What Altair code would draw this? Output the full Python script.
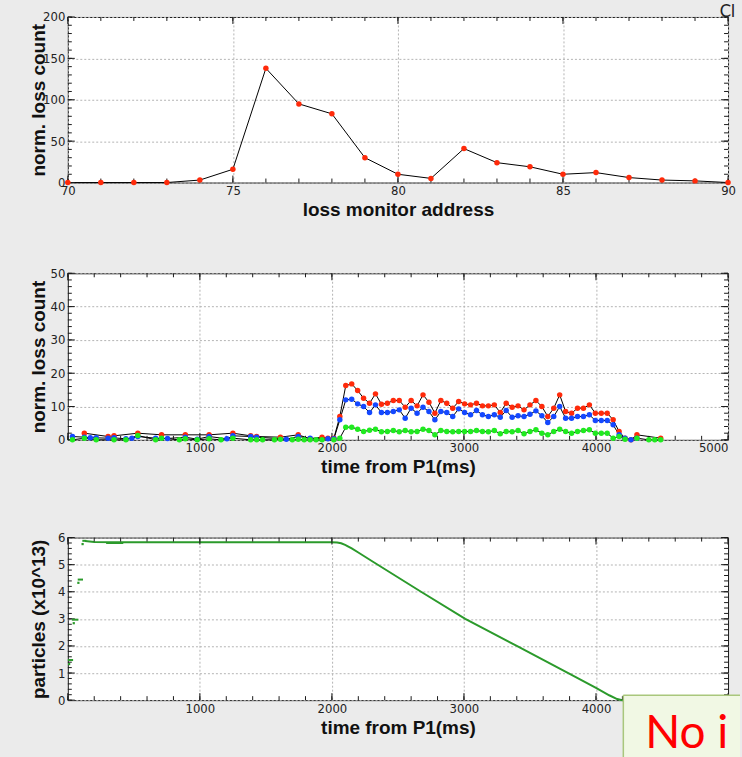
import altair as alt
import pandas as pd

# ---------------- data: panel 1 (loss vs monitor address) ----------------
addr = [70, 71, 72, 73, 74, 75, 76, 77, 78, 79, 80, 81, 82, 83, 84, 85, 86, 87, 88, 89, 90]
loss_addr = [0, 0, 0, 0, 3, 16, 138, 95, 83, 30, 10, 5, 41, 24, 19, 10, 12, 6, 3, 2, 0]

# ---------------- data: panel 2 (loss vs time, three monitors) ----------------
times = [35, 80, 125, 170, 215, 260, 305, 350, 395, 440, 485, 530, 575, 620, 665,
         710, 755, 800, 845, 890, 935, 980, 1025, 1070, 1115, 1160, 1205, 1250, 1295, 1340,
         1385, 1430, 1475, 1520, 1565, 1610, 1655, 1700, 1745, 1790, 1835, 1880, 1925, 1970, 2015,
         2060, 2105, 2150, 2195, 2240, 2285, 2330, 2375, 2420, 2465, 2510, 2555, 2600, 2645, 2690,
         2735, 2780, 2825, 2870, 2915, 2960, 3005, 3050, 3095, 3140, 3185, 3230, 3275, 3320, 3365,
         3410, 3455, 3500, 3545, 3590, 3635, 3680, 3725, 3770, 3815, 3860, 3905, 3950, 3995, 4040,
         4085, 4130, 4175, 4220, 4265, 4310, 4355, 4400, 4445, 4490]
N = None
red_loss = [N, N, 2.0, N, N, N, 1.0, 1.2, N, N, N, 2.0, N, N, N,
            1.5, N, N, N, 1.5, N, N, N, 1.5, N, N, N, 2.0, N, N,
            1.2, 1.0, N, N, N, 0.8, N, N, 1.5, N, 0.3, N, 0.8, 0.5, 0.5,
            7.0, 16.3, 16.8, 14.8, 12.5, 11.0, 13.8, 10.7, 11.0, 11.8,
            11.8, 9.8, 11.8, 10.2, 13.5, 11.3, 8.0, 11.8, 11.0, 9.5,
            11.5, 10.8, 10.5, 11.0, 10.2, 10.2, 10.5, 8.2, 11.0, 9.8,
            10.2, 9.0, 10.5, 11.8, 10.0, 7.0, 9.5, 13.5, 8.5, 8.0,
            9.5, 9.5, 10.5, 8.0, 8.0, 8.0, 6.0, 2.5, 0.5, 0.0,
            1.5, N, N, N, 0.5]
blue_loss = [1.0, N, 0.8, 0.6, 0.6, N, 0.5, 0.6, N, 0.3, 0.5, 1.0, N, N, 0.5,
             N, 0.4, N, N, 0.8, N, 0.2, N, 1.0, N, N, 0.3, 1.2, N, N,
             1.0, 0.8, N, N, N, N, 0.2, N, 1.0, N, 0.5, N, N, 0.3, 0.3,
             6.0, 12.0, 12.2, 10.8, 10.0, 8.2, 10.5, 8.2, 8.2, 8.5,
             9.0, 6.5, 9.5, 8.0, 9.8, 8.5, 6.0, 8.5, 8.2, 7.0,
             9.3, 8.2, 7.5, 8.8, 7.5, 7.0, 7.5, 6.8, 8.8, 6.8,
             7.2, 7.0, 7.7, 8.7, 7.2, 5.2, 7.0, 10.0, 6.5, 6.5,
             7.0, 7.0, 7.5, 5.8, 5.8, 5.8, 4.5, 1.5, 0.5, 0.0,
             0.5, N, N, N, N]
green_loss = [0.0, N, 0.5, N, 0.0, N, N, 0.0, N, 0.0, N, 1.3, N, N, 0.0,
              0.5, N, N, 0.0, 0.3, N, 0.0, N, 0.3, N, 0.0, N, 0.5, N, N,
              0.0, 0.0, 0.0, N, 0.0, 0.2, N, 0.0, 0.2, 0.0, 0.0, 0.0, 0.0, N, 0.0,
              0.5, 3.8, 3.8, 3.2, 2.5, 2.9, 3.2, 2.4, 2.5, 2.8,
              2.4, 2.8, 2.4, 2.5, 3.2, 2.8, 1.5, 2.8, 2.5, 2.4,
              2.5, 2.5, 2.5, 2.8, 2.5, 2.4, 2.8, 1.8, 2.5, 2.4,
              2.8, 1.8, 2.5, 3.0, 2.0, 1.5, 2.5, 3.2, 2.5, 2.0,
              2.5, 2.8, 3.0, 2.0, 2.0, 2.0, 0.5, 1.0, 0.2, N,
              0.5, N, 0.0, 0.0, 0.0]
series_names = ["red", "blue", "green"]
series_colors = ["#ff2a0a", "#1448ff", "#20ea20"]

# ---------------- data: panel 3 (particles vs time) ----------------
part_t = [130, 200, 400, 1000, 1500, 2000, 2040, 2070, 2100, 2150, 2200, 2320, 2675, 3010,
          3400, 3790, 4000, 4100, 4160, 4200, 4240]
part_v = [5.87, 5.84, 5.83, 5.83, 5.83, 5.83, 5.82, 5.79, 5.73, 5.6, 5.45, 5.08, 4.0, 3.0,
          2.0, 1.0, 0.45, 0.18, 0.04, 0.0, 0.0]
seg_start = [0, 30, 75, 110, 290]
seg_end = [40, 80, 115, 140, 420]
seg_val = [1.48, 2.97, 4.45, 5.88, 5.80]
dot_t = [10, 45, 80, 112]
dot_v = [1.33, 2.84, 4.33, 5.76]

# ---------------- axis ticks ----------------
p1_x_major = [70, 75, 80, 85, 90]
p1_x_minor = addr
p1_y_major = [0, 50, 100, 150, 200]
p1_y_minor = [0, 10, 20, 30, 40, 50, 60, 70, 80, 90, 100, 110, 120, 130, 140, 150, 160, 170, 180, 190, 200]
t_major = [0, 1000, 2000, 3000, 4000, 5000]
t_minor = [0, 200, 400, 600, 800, 1000, 1200, 1400, 1600, 1800, 2000, 2200, 2400, 2600, 2800,
           3000, 3200, 3400, 3600, 3800, 4000, 4200, 4400, 4600, 4800, 5000]
p2_y_major = [0, 10, 20, 30, 40, 50]
p2_y_minor = [0, 2, 4, 6, 8, 10, 12, 14, 16, 18, 20, 22, 24, 26, 28, 30, 32, 34, 36, 38,
              40, 42, 44, 46, 48, 50]
p3_y_major = [0, 1, 2, 3, 4, 5, 6]
p3_y_minor = [0, 0.2, 0.4, 0.6, 0.8, 1, 1.2, 1.4, 1.6, 1.8, 2, 2.2, 2.4, 2.6, 2.8, 3, 3.2, 3.4,
              3.6, 3.8, 4, 4.2, 4.4, 4.6, 4.8, 5, 5.2, 5.4, 5.6, 5.8, 6]

W = 662
H1, H2, H3 = 166, 167, 163
TICK = "#1a1a1a"
LABEL_FONT = "Liberation Sans Narrow, DejaVu Sans Condensed, Roboto Condensed, Liberation Sans, sans-serif"
TITLE_FONT = "Liberation Sans, Arial, sans-serif"


def frame_ticks(xs, ys, ax, ay, xmaj, xmin, ymaj, ymin, H):
    layers = []
    for vals, L in ((xmin, 4), (xmaj, 7)):
        d = pd.DataFrame({"v": vals})
        xe = alt.X("v:Q", scale=xs, axis=ax)
        layers.append(alt.Chart(d).mark_rule(color=TICK, strokeWidth=1).encode(
            x=xe, y=alt.value(H), y2=alt.value(H - L)))
        layers.append(alt.Chart(d).mark_rule(color=TICK, strokeWidth=1).encode(
            x=xe, y=alt.value(0), y2=alt.value(L)))
    for vals, L in ((ymin, 4), (ymaj, 7)):
        d = pd.DataFrame({"v": vals})
        ye = alt.Y("v:Q", scale=ys, axis=ay)
        layers.append(alt.Chart(d).mark_rule(color=TICK, strokeWidth=1).encode(
            y=ye, x=alt.value(0), x2=alt.value(L)))
        layers.append(alt.Chart(d).mark_rule(color=TICK, strokeWidth=1).encode(
            y=ye, x=alt.value(W), x2=alt.value(W - L)))
    return layers


def yaxis(title, values, H):
    return alt.Axis(title=title, values=values, grid=True, format="d", titleX=-19, titleY=H / 2,
                    titleAngle=270, titleAlign="center", titleBaseline="bottom")


def xaxis(title, values, flush=False):
    return alt.Axis(title=title, values=values, grid=True, format="d", labelFlush=flush)


def overlay_text(text, **kw):
    return alt.Chart(pd.DataFrame({"s": [text]})).mark_text(**kw)


# ---------------- panel 1 ----------------
xs1 = alt.Scale(domain=[70, 90], nice=False, zero=False)
ys1 = alt.Scale(domain=[0, 200], nice=False)
ax1 = xaxis("loss monitor address", p1_x_major)
ay1 = yaxis("norm. loss count", p1_y_major, H1)
df1 = pd.DataFrame({"addr": addr, "loss": loss_addr})
line1 = alt.Chart(df1).mark_line(color="black", strokeWidth=1).encode(
    x=alt.X("addr:Q", scale=xs1, axis=ax1), y=alt.Y("loss:Q", scale=ys1, axis=ay1))
pts1 = alt.Chart(df1).mark_circle(color="#ff2a0a", opacity=1, size=30).encode(
    x=alt.X("addr:Q", scale=xs1, axis=ax1), y=alt.Y("loss:Q", scale=ys1, axis=ay1))
cl_text = overlay_text("Cl", align="right", baseline="alphabetic", fontSize=17,
                       font="Lato, Open Sans, sans-serif", color="#222222").encode(
    text="s:N", x=alt.value(669), y=alt.value(0))
p1 = alt.layer(line1, *frame_ticks(xs1, ys1, ax1, ay1, p1_x_major, p1_x_minor, p1_y_major, p1_y_minor, H1),
               pts1, cl_text).properties(width=W, height=H1)

# ---------------- panel 2 ----------------
xs2 = alt.Scale(domain=[0, 5000], nice=False, zero=False)
ys2 = alt.Scale(domain=[0, 50], nice=False)
ax2 = xaxis("time from P1(ms)", [1000, 2000, 3000, 4000, 5000], flush=True)
ay2 = yaxis("norm. loss count", p2_y_major, H2)
rows = []
for name, vals in zip(series_names, [red_loss, blue_loss, green_loss]):
    for t, v in zip(times, vals):
        if v is not None:
            rows.append({"t": t, "loss": v, "series": name})
df2 = pd.DataFrame(rows)
line2 = alt.Chart(df2).mark_line(color="black", strokeWidth=1).encode(
    x=alt.X("t:Q", scale=xs2, axis=ax2), y=alt.Y("loss:Q", scale=ys2, axis=ay2),
    detail="series:N")
pts2 = alt.Chart(df2).mark_circle(opacity=1, size=30).encode(
    x=alt.X("t:Q", scale=xs2, axis=ax2), y=alt.Y("loss:Q", scale=ys2, axis=ay2),
    color=alt.Color("series:N", scale=alt.Scale(domain=series_names, range=series_colors), legend=None))
p2 = alt.layer(line2, *frame_ticks(xs2, ys2, ax2, ay2, t_major, t_minor, p2_y_major, p2_y_minor, H2),
               pts2).properties(width=W, height=H2)

# ---------------- panel 3 ----------------
xs3 = alt.Scale(domain=[0, 5000], nice=False, zero=False)
ys3 = alt.Scale(domain=[0, 6], nice=False)
ax3 = xaxis("time from P1(ms)", [1000, 2000, 3000, 4000])
ay3 = yaxis("particles (x10^13)", p3_y_major, H3)
df3 = pd.DataFrame({"t": part_t, "p": part_v})
dseg = pd.DataFrame({"t0": seg_start, "t1": seg_end, "p": seg_val})
ddot = pd.DataFrame({"t": dot_t, "p": dot_v})
line3 = alt.Chart(df3).mark_line(color="#2b9a2b", strokeWidth=2).encode(
    x=alt.X("t:Q", scale=xs3, axis=ax3), y=alt.Y("p:Q", scale=ys3, axis=ay3))
seg3 = alt.Chart(dseg).mark_rule(color="#2b9a2b", strokeWidth=2).encode(
    x=alt.X("t0:Q", scale=xs3, axis=ax3), x2="t1:Q", y=alt.Y("p:Q", scale=ys3, axis=ay3))
dot3 = alt.Chart(ddot).mark_square(color="#2b9a2b", opacity=1, size=5).encode(
    x=alt.X("t:Q", scale=xs3, axis=ax3), y=alt.Y("p:Q", scale=ys3, axis=ay3))
one = pd.DataFrame({"s": ["No in"]})
box = alt.Chart(one).mark_rect(fill="#f1f8e4").encode(
    x=alt.value(557), x2=alt.value(674), y=alt.value(158), y2=alt.value(220))
box_top = alt.Chart(one).mark_rule(color="#a9c77c", strokeWidth=1.5).encode(
    x=alt.value(557), x2=alt.value(674), y=alt.value(158))
box_left = alt.Chart(one).mark_rule(color="#a9c77c", strokeWidth=1.5).encode(
    x=alt.value(557), y=alt.value(158), y2=alt.value(220))
box_text = overlay_text("No in", align="left", baseline="alphabetic", fontSize=46,
                        font="Lato, Open Sans, sans-serif", color="#ff0000", limit=95,
                        ellipsis="\u200b").encode(text="s:N", x=alt.value(579), y=alt.value(211))
p3 = alt.layer(line3, *frame_ticks(xs3, ys3, ax3, ay3, t_major, t_minor, p3_y_major, p3_y_minor, H3),
               seg3, dot3, box, box_top, box_left, box_text).properties(width=W, height=H3)

chart = alt.vconcat(alt.vconcat(p1, p2, spacing=46), p3, spacing=53).properties(
    background="#ebebeb",
    padding={"left": 29, "top": 1, "right": 0, "bottom": 0},
).configure_view(stroke="#1a1a1a", strokeWidth=1, fill="white").configure_axis(
    labelFont=LABEL_FONT, labelFontSize=13, labelColor="#222222",
    titleFont=TITLE_FONT, titleFontSize=19, titleFontWeight="bold", titleColor="#111111",
    gridColor="#b4b4b4", gridDash=[2, 2], gridWidth=1, ticks=False, domain=False,
).configure_axisX(labelPadding=2, titlePadding=3).configure_axisY(labelPadding=3)

chart.save("out.html", embed_options={"renderer": "svg", "actions": False})
